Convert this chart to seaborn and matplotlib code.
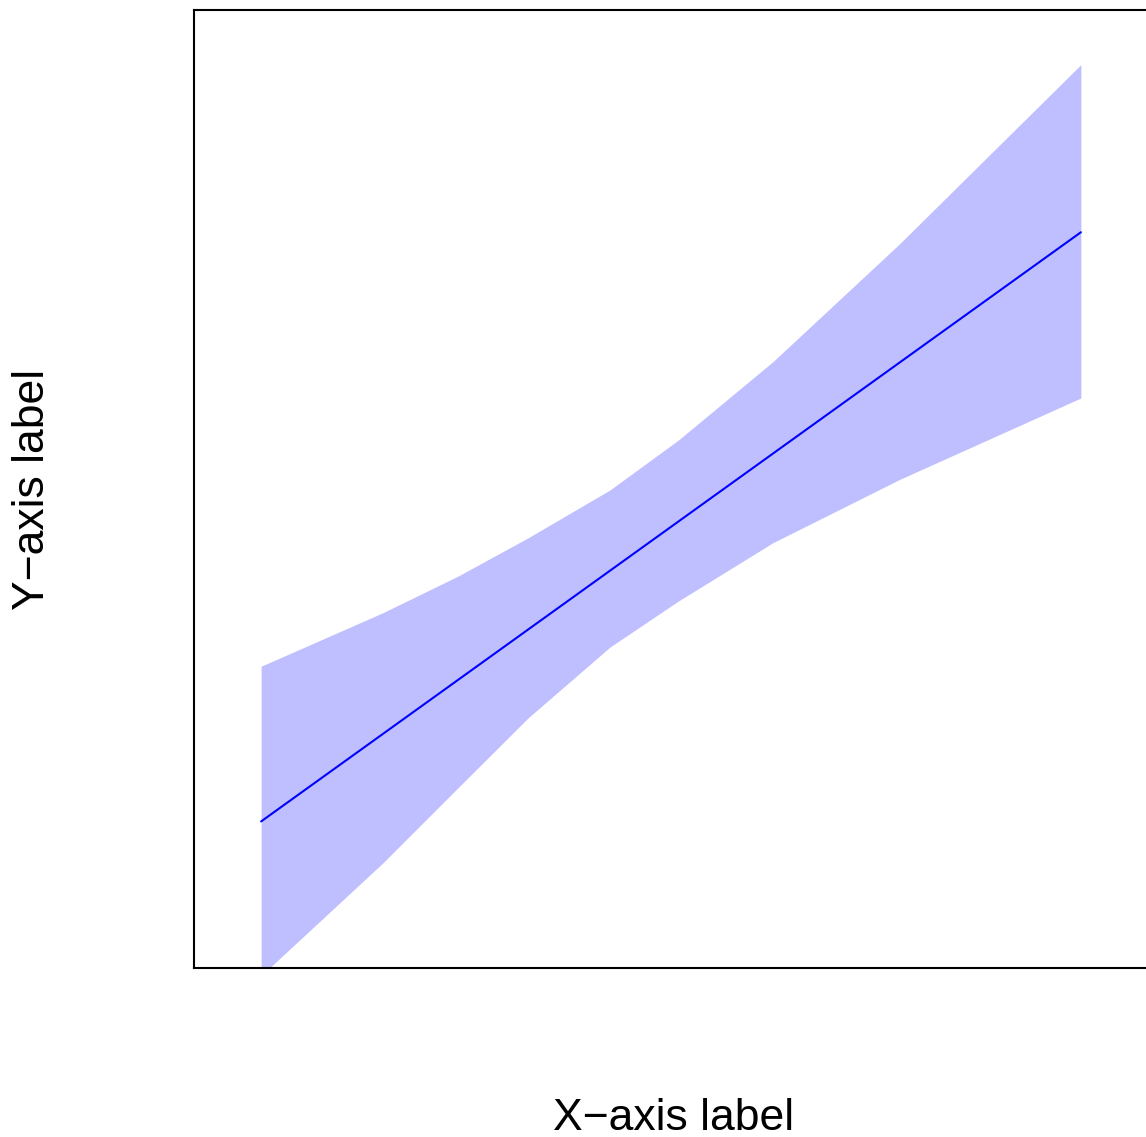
import matplotlib
matplotlib.use("Agg")
import matplotlib.pyplot as plt
import seaborn as sns
import numpy as np
import pandas as pd

# Data
band_x = [1.0, 2.34, 3.16, 3.93, 4.83, 5.58, 6.62, 8.01, 10.0]
band_upper = [3.15, 3.71, 4.09, 4.49, 4.99, 5.51, 6.33, 7.56, 9.43]
band_lower = [-0.08, 1.10, 1.88, 2.61, 3.35, 3.83, 4.44, 5.10, 5.95]
line_x = [1.0, 10.0]
line_y = [1.53, 7.68]

x_label = "X\u2212axis label"
y_label = "Y\u2212axis label"

sns.set_style("white")
plt.rcParams["font.family"] = ["Liberation Sans", "DejaVu Sans"]
plt.rcParams["text.color"] = "black"

W, H = 1146, 1137
fig = plt.figure(figsize=(W / 100, H / 100), dpi=100)
ax = fig.add_axes([194 / W, 169 / H, 954 / W, 958 / H])

ax.fill_between(band_x, band_lower, band_upper, color="#bfbfff", linewidth=0)
df = pd.DataFrame({"x": line_x, "y": line_y})
sns.lineplot(data=df, x="x", y="y", ax=ax, color="#0000ff", linewidth=1.5)

ax.set_xlim(0.263, 10.737)
ax.set_ylim(0, 10)
ax.set_xticks([])
ax.set_yticks([])
ax.set_xlabel("")
ax.set_ylabel("")
for s in ax.spines.values():
    s.set_visible(True)
    s.set_color("black")
    s.set_linewidth(1.5)

fig.text(674 / W, 1 - 1130 / H, x_label, ha="center", va="baseline",
         fontsize=32, color="black")
fig.text(33 / W, 1 - 489 / H, y_label, ha="center", va="center",
         rotation=90, fontsize=32, color="black")

fig.savefig("out.png", dpi=100, facecolor="white")
